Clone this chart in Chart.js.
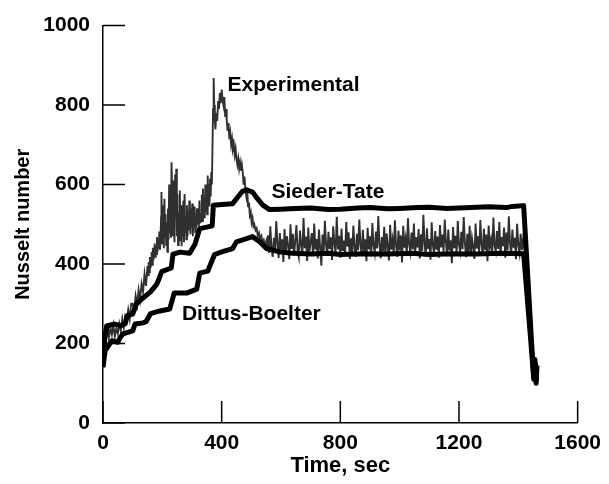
<!DOCTYPE html>
<html>
<head>
<meta charset="utf-8">
<script src="https://cdn.jsdelivr.net/npm/chart.js@4.4.0/dist/chart.umd.min.js"></script>
<style>
  html, body { margin: 0; padding: 0; background: #fff; }
  #wrap { width: 609px; height: 484px; }
</style>
</head>
<body>
<div id="wrap"><canvas id="nusselt"></canvas></div>
<script>
'use strict';

// axis ticks
var xTicks = [0, 400, 800, 1200, 1600];
var yTicks = [0, 200, 400, 600, 800, 1000];

// [time sec, Nusselt number]
var siederTate = [
  [0, 150], [5, 205], [12, 244], [40, 249], [60, 245], [75, 250], [82, 270], [100, 274],
  [113, 300], [134, 314], [160, 330], [181, 349], [190, 365], [198, 381], [230, 390],
  [236, 425], [260, 430], [292, 427], [310, 450], [326, 489], [350, 493], [368, 496],
  [372, 548], [400, 550], [437, 552], [454, 568], [470, 583], [484, 587], [504, 581],
  [520, 565], [538, 549], [561, 537], [600, 538], [628, 539], [700, 541], [760, 537],
  [800, 538], [860, 541], [900, 542], [960, 539], [1000, 540], [1060, 542], [1100, 543],
  [1160, 540], [1200, 541], [1260, 543], [1300, 544], [1360, 542], [1380, 545],
  [1418, 547], [1452, 110], [1456, 160], [1460, 100], [1463, 145]
];

var dittusBoelter = [
  [0, 140], [7, 182], [30, 207], [50, 203], [57, 214], [67, 224], [100, 232], [108, 249],
  [135, 252], [145, 255], [160, 275], [192, 282], [225, 287], [240, 327], [282, 327],
  [316, 337], [326, 377], [353, 382], [376, 424], [403, 431], [437, 439], [450, 456],
  [484, 464], [504, 469], [528, 456], [551, 439], [600, 430], [628, 428], [700, 425],
  [760, 427], [800, 424], [880, 426], [960, 425], [1040, 427], [1100, 424], [1180, 426],
  [1260, 425], [1340, 427], [1418, 426], [1452, 115], [1457, 150], [1461, 105]
];

// heating transient: start, spikes and the peak
var expTransient = [
  [0, 150], [5, 235], [10, 205], [15, 250], [20, 215], [25, 240], [30, 222], [35, 246],
  [40, 218], [45, 238], [50, 225], [55, 250], [60, 232], [65, 262], [70, 240], [75, 268],
  [80, 258], [85, 285], [90, 262], [95, 300], [100, 300], [105, 285], [110, 320], [115, 298],
  [120, 335], [125, 310], [130, 350], [135, 330], [140, 375], [145, 345],
  [150, 395], [152, 372], [154, 405], [156, 380], [158, 418], [160, 390], [162, 402],
  [164, 430], [166, 398], [168, 441], [170, 410], [172, 425], [174, 452], [176, 418],
  [178, 446], [180, 425], [182, 468], [184, 432], [186, 455], [188, 440], [190, 482],
  [192, 436], [194, 470], [196, 520], [197, 581], [199, 452], [201, 548], [203, 470],
  [205, 440], [207, 564], [209, 470], [211, 525], [213, 448], [215, 505], [217, 431],
  [219, 540], [221, 462], [223, 600], [225, 478], [227, 545], [229, 466], [231, 656],
  [233, 590], [235, 470], [237, 610], [239, 498], [241, 455], [243, 625], [245, 520],
  [247, 640], [249, 470], [251, 575], [253, 448], [255, 530], [257, 460], [259, 585],
  [261, 475], [263, 548], [265, 445], [267, 515], [269, 470], [271, 560], [273, 455],
  [275, 576], [277, 480], [279, 520], [281, 462], [283, 548], [285, 470], [287, 530],
  [289, 485], [291, 560], [293, 500], [295, 475], [297, 540], [299, 492], [301, 552],
  [303, 470], [305, 528], [307, 498], [309, 545], [311, 480], [313, 515], [315, 492],
  [317, 540], [319, 500], [321, 530], [323, 495], [325, 560], [327, 505], [329, 528],
  [331, 512], [333, 575], [335, 508], [337, 590], [339, 520], [341, 548], [343, 515],
  [345, 600], [347, 530], [349, 570], [351, 525], [353, 623], [355, 560], [357, 600],
  [359, 545], [361, 615], [363, 570], [365, 631], [367, 600], [369, 690], [371, 790],
  [373, 868], [375, 800], [377, 760], [379, 739], [382, 780], [385, 760], [388, 810],
  [391, 790], [394, 830], [397, 805], [400, 839], [403, 815], [406, 800], [409, 820],
  [412, 770], [415, 790], [417, 764], [420, 735], [423, 755], [426, 714], [429, 730],
  [432, 700], [435, 715], [438, 690], [441, 700], [444, 675], [447, 690], [450, 664],
  [453, 650], [456, 665], [459, 640], [462, 655], [465, 635], [468, 650], [471, 631],
  [474, 600], [477, 620], [480, 585], [483, 570], [486, 590], [489, 545], [492, 555],
  [495, 523], [498, 530], [501, 505], [504, 515], [507, 495], [510, 500], [514, 485],
  [518, 490], [522, 470], [526, 478], [530, 462], [534, 470], [538, 452], [542, 460],
  [546, 445], [550, 456], [552, 440]
];

// steady period, then the cut-off
var expSteady = [
  [556, 472], [560, 428], [564, 495], [568, 440], [572, 418], [576, 466], [580, 431], [584, 508], [588, 452], [592, 415], [596, 478], [600, 436],
  [604, 462], [608, 405], [612, 488], [616, 429], [620, 470], [624, 445], [628, 412], [632, 500], [636, 438], [640, 476], [644, 421], [648, 458],
  [652, 498], [656, 433], [660, 417], [664, 484], [668, 449], [672, 425], [676, 516], [680, 440], [684, 469], [688, 408], [692, 492], [696, 431],
  [700, 455], [704, 478], [708, 420], [712, 502], [716, 436], [720, 463], [724, 414], [728, 487], [732, 441], [736, 396], [740, 474], [744, 430],
  [748, 509], [752, 447], [756, 423], [760, 481], [764, 438], [768, 467], [772, 410], [776, 495], [780, 452], [784, 428], [788, 519], [792, 437],
  [796, 471], [800, 416], [804, 489], [808, 433], [812, 459], [816, 422], [820, 506], [824, 444], [828, 480], [832, 413], [836, 465], [840, 429],
  [844, 497], [848, 440], [852, 418], [856, 476], [860, 435], [864, 512], [868, 448], [872, 424], [876, 486], [880, 431], [884, 462], [888, 407],
  [892, 491], [896, 437], [900, 470], [904, 419], [908, 503], [912, 446], [916, 427], [920, 482], [924, 439], [928, 521], [932, 450], [936, 415],
  [940, 468], [944, 432], [948, 494], [952, 420], [956, 477], [960, 443], [964, 409], [968, 499], [972, 436], [976, 461], [980, 426], [984, 510],
  [988, 445], [992, 418], [996, 484], [1000, 434], [1004, 472], [1008, 404], [1012, 496], [1016, 441], [1020, 464], [1024, 423], [1028, 515], [1032, 449],
  [1036, 430], [1040, 479], [1044, 437], [1048, 502], [1052, 421], [1056, 467], [1060, 442], [1064, 488], [1068, 414], [1072, 475], [1076, 433], [1080, 524],
  [1084, 451], [1088, 419], [1092, 490], [1096, 438], [1100, 463], [1104, 411], [1108, 505], [1112, 447], [1116, 426], [1120, 483], [1124, 436], [1128, 469],
  [1132, 416], [1136, 498], [1140, 442], [1144, 474], [1148, 429], [1152, 512], [1156, 455], [1160, 420], [1164, 487], [1168, 434], [1172, 460], [1176, 402],
  [1180, 493], [1184, 440], [1188, 471], [1192, 425], [1196, 508], [1200, 448], [1204, 431], [1208, 481], [1212, 437], [1216, 518], [1220, 452], [1224, 417],
  [1228, 476], [1232, 430], [1236, 496], [1240, 421], [1244, 465], [1248, 444], [1252, 413], [1256, 502], [1260, 439], [1264, 470], [1268, 427], [1272, 511],
  [1276, 449], [1280, 423], [1284, 489], [1288, 435], [1292, 474], [1296, 407], [1300, 497], [1304, 443], [1308, 461], [1312, 425], [1316, 517], [1320, 446],
  [1324, 432], [1328, 483], [1332, 438], [1336, 506], [1340, 420], [1344, 468], [1348, 445], [1352, 492], [1356, 416], [1360, 479], [1364, 434], [1368, 520],
  [1372, 453], [1376, 422], [1380, 487], [1384, 441], [1388, 466], [1392, 412], [1396, 501], [1400, 448], [1404, 428], [1408, 476], [1412, 435], [1416, 462],
  [1420, 445], [1451, 130], [1455, 165], [1459, 110], [1463, 150], [1467, 105]
];

var curveLabels = [
  { text: 'Experimental', x: 420, y: 850 },
  { text: 'Sieder-Tate', x: 568, y: 581 },
  { text: 'Dittus-Boelter', x: 266, y: 274 }
];

var fontFamily = '"Liberation Sans", Arial, Helvetica, sans-serif';

function toPoints(arr) {
  return arr.map(function(p) { return { x: p[0], y: p[1] }; });
}

// tick marks point into the plot, like the original figure
var innerTicks = {
  id: 'innerTicks',
  afterDatasetsDraw: function(chart) {
    var ctx = chart.ctx, area = chart.chartArea;
    var xs = chart.scales.x, ys = chart.scales.y;
    ctx.save();
    ctx.strokeStyle = '#000';
    ctx.lineWidth = 1.5;
    ctx.beginPath();
    xTicks.forEach(function(v) {
      var px = xs.getPixelForValue(v);
      ctx.moveTo(px, area.bottom);
      ctx.lineTo(px, area.bottom - 22);
    });
    yTicks.forEach(function(v) {
      var py = ys.getPixelForValue(v);
      ctx.moveTo(area.left, py);
      ctx.lineTo(area.left + 22, py);
    });
    ctx.stroke();
    ctx.restore();
  }
};

var curveText = {
  id: 'curveText',
  afterDatasetsDraw: function(chart) {
    var ctx = chart.ctx;
    ctx.save();
    ctx.fillStyle = '#000';
    ctx.font = 'bold 21px ' + fontFamily;
    ctx.textAlign = 'left';
    ctx.textBaseline = 'middle';
    curveLabels.forEach(function(l) {
      ctx.fillText(l.text, chart.scales.x.getPixelForValue(l.x), chart.scales.y.getPixelForValue(l.y));
    });
    ctx.restore();
  }
};

var tickFont = { family: fontFamily, size: 21, weight: 'bold' };
var plainNumber = function(v) { return String(v); };

new Chart(document.getElementById('nusselt').getContext('2d'), {
  type: 'line',
  data: {
    datasets: [
      {
        label: 'Sieder-Tate',
        data: toPoints(siederTate),
        borderColor: '#000',
        borderWidth: 5,
        borderJoinStyle: 'round',
        pointRadius: 0,
        order: 0
      },
      {
        label: 'Dittus-Boelter',
        data: toPoints(dittusBoelter),
        borderColor: '#000',
        borderWidth: 5,
        borderJoinStyle: 'round',
        pointRadius: 0,
        order: 1
      },
      {
        label: 'Experimental',
        data: toPoints(expTransient.concat(expSteady)),
        borderColor: 'rgba(25,25,25,0.9)',
        borderWidth: 1.9,
        pointRadius: 0,
        order: 2
      }
    ]
  },
  options: {
    responsive: true,
    maintainAspectRatio: false,
    animation: false,
    layout: { padding: { left: 0, right: 30, top: 22, bottom: 0 } },
    plugins: {
      legend: { display: false },
      tooltip: { enabled: false }
    },
    scales: {
      x: {
        type: 'linear',
        min: 0,
        max: 1600,
        afterBuildTicks: function(s) { s.ticks = xTicks.map(function(v) { return { value: v }; }); },
        afterFit: function(s) { s.height = 61; },
        grid: { display: false, drawTicks: false },
        border: { display: true, color: '#000', width: 1.5 },
        ticks: { color: '#000', font: tickFont, padding: 8, maxRotation: 0, callback: plainNumber },
        title: {
          display: true,
          text: 'Time, sec',
          color: '#000',
          font: { family: fontFamily, size: 22, weight: 'bold' },
          padding: { top: 0, bottom: 5 }
        }
      },
      y: {
        type: 'linear',
        min: 0,
        max: 1000,
        afterBuildTicks: function(s) { s.ticks = yTicks.map(function(v) { return { value: v }; }); },
        afterFit: function(s) { s.width = 103; },
        grid: { display: false, drawTicks: false },
        border: { display: true, color: '#000', width: 1.5 },
        ticks: { color: '#000', font: tickFont, padding: 13, callback: plainNumber },
        title: {
          display: true,
          text: 'Nusselt number',
          color: '#000',
          font: { family: fontFamily, size: 20, weight: 'bold' },
          padding: { top: 11, bottom: 0 }
        }
      }
    }
  },
  plugins: [innerTicks, curveText]
});
</script>
</body>
</html>
